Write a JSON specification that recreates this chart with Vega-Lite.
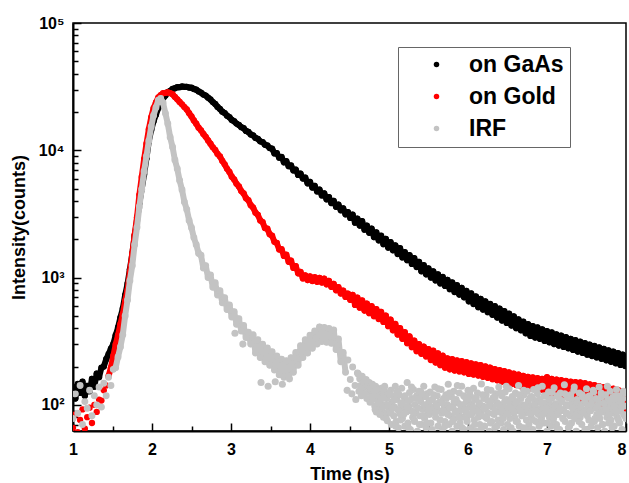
{
"$schema":"https://vega.github.io/schema/vega-lite/v6.json",
"width":553,"height":408,
"autosize":{"type":"none"},
"padding":{"left":73,"top":23,"right":3,"bottom":52},
"background":"white",
"config":{"view":{"stroke":"black","strokeWidth":1.5},"font":"Liberation Sans"},
"resolve":{"axis":{"x":"independent","y":"independent"}},
"datasets":{
"gaas":[{"t":1,"v":138},{"t":1.03,"v":112},{"t":1.06,"v":146},{"t":1.09,"v":124},{"t":1.12,"v":152},{"t":1.15,"v":118},{"t":1.18,"v":141},{"t":1.21,"v":128},{"t":1.24,"v":160},{"t":1.27,"v":139},{"t":1.3,"v":176},{"t":1.33,"v":165},{"t":1.36,"v":196},{"t":1.39,"v":200},{"t":1.42,"v":228},{"t":1.45,"v":250},{"t":1.48,"v":276},{"t":1.51,"v":300},{"t":1.54,"v":352},{"t":1.57,"v":405},
{"t":1.6,"v":485},{"t":1.63,"v":572},{"t":1.66,"v":728},{"t":1.69,"v":893},{"t":1.72,"v":1160},{"t":1.75,"v":1540},{"t":1.78,"v":2120},{"t":1.81,"v":2800},{"t":1.84,"v":3840},{"t":1.87,"v":4960},{"t":1.9,"v":6450},{"t":1.93,"v":8650},{"t":1.96,"v":11800},{"t":1.99,"v":14400},{"t":2.02,"v":16900},{"t":2.05,"v":19000},{"t":2.08,"v":21500},{"t":2.11,"v":23300},{"t":2.14,"v":25500},{"t":2.17,"v":26900},{"t":2.2,"v":28600},{"t":2.23,"v":29300},{"t":2.26,"v":30300},{"t":2.29,"v":30700},{"t":2.32,"v":31300},{"t":2.35,"v":31300},{"t":2.38,"v":31700},{"t":2.41,"v":31500},{"t":2.44,"v":31500},{"t":2.47,"v":31100},{"t":2.5,"v":31000},{"t":2.53,"v":30300},{"t":2.56,"v":29900},{"t":2.59,"v":29000},{"t":2.62,"v":28400},{"t":2.65,"v":27400},{"t":2.68,"v":26900},{"t":2.71,"v":25900},{"t":2.74,"v":25100},{"t":2.77,"v":23900},{"t":2.8,"v":23100},{"t":2.83,"v":21900},{"t":2.86,"v":21100},{"t":2.89,"v":20100},{"t":2.92,"v":19600},{"t":2.95,"v":18700},{"t":2.98,"v":18200},{"t":3.01,"v":17300},{"t":3.04,"v":16900},{"t":3.07,"v":16200},{"t":3.1,"v":15800},{"t":3.13,"v":15200},{"t":3.16,"v":14900},{"t":3.19,"v":14200},{"t":3.22,"v":13950},{"t":3.25,"v":13300},{"t":3.28,"v":13100},{"t":3.31,"v":12500},{"t":3.34,"v":12300},{"t":3.37,"v":11750},{"t":3.4,"v":11600},{"t":3.43,"v":11050},{"t":3.46,"v":10900},{"t":3.49,"v":10400},
{"t":3.52,"v":10300},{"t":3.55,"v":9450},{"t":3.58,"v":9500},{"t":3.61,"v":8750},{"t":3.64,"v":8850},{"t":3.67,"v":8050},{"t":3.7,"v":8200},{"t":3.73,"v":7500},{"t":3.76,"v":7600},{"t":3.79,"v":6950},{"t":3.82,"v":7050},{"t":3.85,"v":6400},{"t":3.88,"v":6550},{"t":3.91,"v":6000},{"t":3.94,"v":6100},{"t":3.97,"v":5500},{"t":4,"v":5650},{"t":4.03,"v":5100},{"t":4.06,"v":5250},{"t":4.09,"v":4750},{"t":4.12,"v":4900},{"t":4.15,"v":4420},{"t":4.18,"v":4580},{"t":4.21,"v":4120},{"t":4.24,"v":4290},{"t":4.27,"v":3850},{"t":4.3,"v":4000},{"t":4.33,"v":3600},{"t":4.36,"v":3740},{"t":4.39,"v":3380},{"t":4.42,"v":3490},{"t":4.45,"v":3140},{"t":4.48,"v":3270},{"t":4.51,"v":2940},
{"t":4.54,"v":3120},{"t":4.57,"v":2700},{"t":4.6,"v":2900},{"t":4.63,"v":2560},{"t":4.66,"v":2770},{"t":4.69,"v":2380},{"t":4.72,"v":2560},{"t":4.75,"v":2250},{"t":4.78,"v":2420},{"t":4.81,"v":2080},{"t":4.84,"v":2260},{"t":4.87,"v":1960},{"t":4.9,"v":2130},{"t":4.93,"v":1830},{"t":4.96,"v":2010},{"t":4.99,"v":1720},{"t":5.02,"v":1900},{"t":5.05,"v":1640},{"t":5.08,"v":1790},{"t":5.11,"v":1530},{"t":5.14,"v":1700},{"t":5.17,"v":1440},{"t":5.2,"v":1580},{"t":5.23,"v":1370},{"t":5.26,"v":1500},{"t":5.29,"v":1280},{"t":5.32,"v":1420},{"t":5.35,"v":1210},{"t":5.38,"v":1330},{"t":5.41,"v":1120},{"t":5.44,"v":1250},{"t":5.47,"v":1060},{"t":5.5,"v":1180},{"t":5.53,"v":1000},{"t":5.56,"v":1120},{"t":5.59,"v":950},{"t":5.62,"v":1060},{"t":5.65,"v":900},{"t":5.68,"v":1010},{"t":5.71,"v":860},{"t":5.74,"v":960},{"t":5.77,"v":810},{"t":5.8,"v":915},{"t":5.83,"v":770},{"t":5.86,"v":870},{"t":5.89,"v":735},{"t":5.92,"v":830},{"t":5.95,"v":700},{"t":5.98,"v":785},
{"t":6.01,"v":650},{"t":6.04,"v":750},{"t":6.07,"v":620},{"t":6.1,"v":710},{"t":6.13,"v":585},{"t":6.16,"v":680},{"t":6.19,"v":560},{"t":6.22,"v":650},{"t":6.25,"v":535},{"t":6.28,"v":620},{"t":6.31,"v":510},{"t":6.34,"v":595},{"t":6.37,"v":485},{"t":6.4,"v":570},{"t":6.43,"v":460},{"t":6.46,"v":545},{"t":6.49,"v":440},{"t":6.52,"v":520},{"t":6.55,"v":420},{"t":6.58,"v":495},{"t":6.61,"v":400},{"t":6.64,"v":470},{"t":6.67,"v":385},{"t":6.7,"v":450},{"t":6.73,"v":365},{"t":6.76,"v":430},{"t":6.79,"v":348},{"t":6.82,"v":415},{"t":6.85,"v":338},{"t":6.88,"v":405},{"t":6.91,"v":330},{"t":6.94,"v":392},{"t":6.97,"v":318},{"t":7,"v":380},{"t":7.03,"v":310},{"t":7.06,"v":370},{"t":7.09,"v":300},{"t":7.12,"v":358},{"t":7.15,"v":292},{"t":7.18,"v":350},{"t":7.21,"v":285},{"t":7.24,"v":340},{"t":7.27,"v":278},{"t":7.3,"v":330},{"t":7.33,"v":270},{"t":7.36,"v":322},{"t":7.39,"v":262},{"t":7.42,"v":313},{"t":7.45,"v":256},{"t":7.48,"v":305},{"t":7.51,"v":248},{"t":7.54,"v":297},{"t":7.57,"v":242},{"t":7.6,"v":290},{"t":7.63,"v":236},{"t":7.66,"v":282},{"t":7.69,"v":230},{"t":7.72,"v":275},{"t":7.75,"v":224},{"t":7.78,"v":268},{"t":7.81,"v":218},{"t":7.84,"v":262},{"t":7.87,"v":212},{"t":7.9,"v":255},{"t":7.93,"v":206},{"t":7.96,"v":248},{"t":7.99,"v":202}],
"gold":[{"t":1,"v":66},{"t":1.03,"v":84},{"t":1.06,"v":61},{"t":1.09,"v":76},{"t":1.12,"v":92},{"t":1.15,"v":65},{"t":1.18,"v":80},{"t":1.21,"v":95},{"t":1.24,"v":72},{"t":1.27,"v":100},{"t":1.3,"v":88},{"t":1.33,"v":110},{"t":1.36,"v":108},{"t":1.39,"v":130},{"t":1.42,"v":142},
{"t":1.45,"v":168},{"t":1.48,"v":196},{"t":1.51,"v":242},{"t":1.54,"v":298},{"t":1.57,"v":352},{"t":1.6,"v":430},{"t":1.63,"v":515},{"t":1.66,"v":655},{"t":1.69,"v":795},{"t":1.72,"v":1110},{"t":1.75,"v":1540},{"t":1.78,"v":2160},{"t":1.81,"v":2980},{"t":1.84,"v":4470},{"t":1.87,"v":6180},{"t":1.9,"v":8530},{"t":1.93,"v":11250},{"t":1.96,"v":14650},{"t":1.99,"v":18150},{"t":2.02,"v":21450},{"t":2.05,"v":23750},{"t":2.08,"v":26050},{"t":2.11,"v":27150},{"t":2.14,"v":28050},{"t":2.17,"v":28250},{"t":2.2,"v":28550},{"t":2.23,"v":28150},{"t":2.26,"v":27550},{"t":2.29,"v":26250},{"t":2.32,"v":25150},{"t":2.35,"v":23950},{"t":2.38,"v":22950},{"t":2.41,"v":21850},{"t":2.44,"v":20950},{"t":2.47,"v":19550},{"t":2.5,"v":18450},{"t":2.53,"v":17150},{"t":2.56,"v":16150},{"t":2.59,"v":15050},{"t":2.62,"v":14350},{"t":2.65,"v":13450},{"t":2.68,"v":12750},{"t":2.71,"v":11950},{"t":2.74,"v":11250},{"t":2.77,"v":10550},{"t":2.8,"v":10050},{"t":2.83,"v":9350},{"t":2.86,"v":8950},{"t":2.89,"v":8250},{"t":2.92,"v":7750},{"t":2.95,"v":7150},{"t":2.98,"v":6750},{"t":3.01,"v":6200},{"t":3.04,"v":5900},{"t":3.07,"v":5450},{"t":3.1,"v":5200},{"t":3.13,"v":4780},{"t":3.16,"v":4580},{"t":3.19,"v":4200},{"t":3.22,"v":4050},{"t":3.25,"v":3700},{"t":3.28,"v":3550},{"t":3.31,"v":3230},{"t":3.34,"v":3110},{"t":3.37,"v":2810},{"t":3.4,"v":2730},{"t":3.43,"v":2450},{"t":3.46,"v":2420},{"t":3.49,"v":2190},{"t":3.52,"v":2130},{"t":3.55,"v":1910},{"t":3.58,"v":1870},
{"t":3.61,"v":1660},{"t":3.64,"v":1670},{"t":3.67,"v":1480},{"t":3.7,"v":1510},{"t":3.73,"v":1330},{"t":3.76,"v":1360},{"t":3.79,"v":1190},{"t":3.82,"v":1230},{"t":3.85,"v":1080},{"t":3.88,"v":1110},{"t":3.91,"v":985},{"t":3.94,"v":1040},{"t":3.97,"v":955},{"t":4,"v":1020},{"t":4.03,"v":940},{"t":4.06,"v":1005},{"t":4.09,"v":925},{"t":4.12,"v":995},{"t":4.15,"v":915},{"t":4.18,"v":980},{"t":4.21,"v":885},{"t":4.24,"v":940},{"t":4.27,"v":845},{"t":4.3,"v":890},{"t":4.33,"v":795},{"t":4.36,"v":840},{"t":4.39,"v":750},{"t":4.42,"v":790},{"t":4.45,"v":705},{"t":4.48,"v":748},{"t":4.51,"v":668},
{"t":4.54,"v":730},{"t":4.57,"v":610},{"t":4.6,"v":695},{"t":4.63,"v":580},{"t":4.66,"v":660},{"t":4.69,"v":550},{"t":4.72,"v":625},{"t":4.75,"v":525},{"t":4.78,"v":595},{"t":4.81,"v":497},{"t":4.84,"v":565},{"t":4.87,"v":472},{"t":4.9,"v":537},{"t":4.93,"v":448},{"t":4.96,"v":503},{"t":4.99,"v":415},{"t":5.02,"v":467},{"t":5.05,"v":385},{"t":5.08,"v":432},{"t":5.11,"v":357},{"t":5.14,"v":400},{"t":5.17,"v":330},{"t":5.2,"v":372},{"t":5.23,"v":305},{"t":5.26,"v":345},{"t":5.29,"v":284},{"t":5.32,"v":320},{"t":5.35,"v":264},{"t":5.38,"v":300},{"t":5.41,"v":252},{"t":5.44,"v":287},{"t":5.47,"v":240},{"t":5.5,"v":274},
{"t":5.53,"v":225},{"t":5.56,"v":266},{"t":5.59,"v":215},{"t":5.62,"v":254},{"t":5.65,"v":205},{"t":5.68,"v":243},{"t":5.71,"v":196},{"t":5.74,"v":232},{"t":5.77,"v":190},{"t":5.8,"v":228},{"t":5.83,"v":186},{"t":5.86,"v":223},{"t":5.89,"v":183},{"t":5.92,"v":220},{"t":5.95,"v":180},{"t":5.98,"v":216},{"t":6.01,"v":175},{"t":6.04,"v":212},{"t":6.07,"v":173},{"t":6.1,"v":208},{"t":6.13,"v":170},{"t":6.16,"v":205},{"t":6.19,"v":166},{"t":6.22,"v":200},{"t":6.25,"v":163},{"t":6.28,"v":196},{"t":6.31,"v":159},{"t":6.34,"v":191},{"t":6.37,"v":156},{"t":6.4,"v":187},{"t":6.43,"v":152},{"t":6.46,"v":184},{"t":6.49,"v":149},{"t":6.52,"v":180},{"t":6.55,"v":146},{"t":6.58,"v":176},{"t":6.61,"v":143},{"t":6.64,"v":173},{"t":6.67,"v":140},{"t":6.7,"v":169},{"t":6.73,"v":137},{"t":6.76,"v":166},{"t":6.79,"v":135},{"t":6.82,"v":164},{"t":6.85,"v":133},{"t":6.88,"v":162},{"t":6.91,"v":131},{"t":6.94,"v":160},{"t":6.97,"v":130},
{"t":7,"v":165},{"t":7.03,"v":122},{"t":7.06,"v":160},{"t":7.09,"v":119},{"t":7.12,"v":158},{"t":7.15,"v":117},{"t":7.18,"v":156},{"t":7.21,"v":116},{"t":7.24,"v":154},{"t":7.27,"v":114},{"t":7.3,"v":152},{"t":7.33,"v":113},{"t":7.36,"v":151},{"t":7.39,"v":112},{"t":7.42,"v":150},{"t":7.45,"v":110},{"t":7.48,"v":148},{"t":7.51,"v":108},{"t":7.54,"v":145},{"t":7.57,"v":106},{"t":7.6,"v":143},{"t":7.63,"v":104},{"t":7.66,"v":140},{"t":7.69,"v":102},{"t":7.72,"v":138},{"t":7.75,"v":100},{"t":7.78,"v":136},{"t":7.81,"v":98},{"t":7.84,"v":134},{"t":7.87,"v":96},{"t":7.9,"v":131},{"t":7.93,"v":94},{"t":7.96,"v":128},{"t":7.99,"v":92}],
"irf":[{"t":1,"v":78},{"t":1.03,"v":122},{"t":1.06,"v":86},{"t":1.09,"v":142},{"t":1.12,"v":70},{"t":1.15,"v":106},{"t":1.18,"v":94},{"t":1.21,"v":130},{"t":1.24,"v":82},{"t":1.27,"v":118},{"t":1.3,"v":100},{"t":1.33,"v":138},{"t":1.36,"v":96},{"t":1.39,"v":148},{"t":1.42,"v":118},{"t":1.45,"v":165},{"t":1.48,"v":142},{"t":1.51,"v":190},{"t":1.54,"v":196},{"t":1.57,"v":238},
{"t":1.6,"v":285},{"t":1.63,"v":355},{"t":1.66,"v":500},{"t":1.69,"v":665},{"t":1.72,"v":945},{"t":1.75,"v":1240},{"t":1.78,"v":1810},{"t":1.81,"v":2480},{"t":1.84,"v":3600},{"t":1.87,"v":4950},{"t":1.9,"v":6850},{"t":1.93,"v":9000},{"t":1.96,"v":11900},{"t":1.99,"v":15300},{"t":2.02,"v":18800},{"t":2.05,"v":21700},{"t":2.08,"v":24700},{"t":2.11,"v":25500},{"t":2.14,"v":23600},{"t":2.17,"v":19500},{"t":2.2,"v":16150},{"t":2.23,"v":12650},{"t":2.26,"v":10600},{"t":2.29,"v":8400},{"t":2.32,"v":7150},{"t":2.35,"v":5780},{"t":2.38,"v":4900},{"t":2.41,"v":3930},{"t":2.44,"v":3430},{"t":2.47,"v":2810},{"t":2.5,"v":2460},{"t":2.53,"v":2060},{"t":2.56,"v":1810},{"t":2.59,"v":1550},
{"t":2.62,"v":1500},{"t":2.65,"v":1190},{"t":2.68,"v":1240},{"t":2.71,"v":1000},{"t":2.74,"v":1050},{"t":2.77,"v":840},{"t":2.8,"v":910},{"t":2.83,"v":730},{"t":2.86,"v":790},{"t":2.89,"v":635},{"t":2.92,"v":695},{"t":2.95,"v":560},{"t":2.98,"v":610},{"t":3.01,"v":490},{"t":3.04,"v":540},{"t":3.07,"v":430},{"t":3.1,"v":475},{"t":3.13,"v":380},{"t":3.16,"v":420},{"t":3.19,"v":338},{"t":3.22,"v":372},{"t":3.25,"v":300},
{"t":3.28,"v":355},{"t":3.31,"v":255},{"t":3.34,"v":325},{"t":3.37,"v":235},{"t":3.4,"v":300},{"t":3.43,"v":218},{"t":3.46,"v":280},{"t":3.49,"v":205},{"t":3.52,"v":262},{"t":3.55,"v":188},{"t":3.58,"v":242},{"t":3.61,"v":172},{"t":3.64,"v":228},{"t":3.67,"v":165},{"t":3.7,"v":222},{"t":3.73,"v":168},{"t":3.76,"v":235},{"t":3.79,"v":180},{"t":3.82,"v":258},{"t":3.85,"v":205},{"t":3.88,"v":292},{"t":3.91,"v":235},{"t":3.94,"v":325},{"t":3.97,"v":255},{"t":4,"v":352},{"t":4.03,"v":278},{"t":4.06,"v":380},{"t":4.09,"v":300},{"t":4.12,"v":410},{"t":4.15,"v":315},{"t":4.18,"v":405},{"t":4.21,"v":310},{"t":4.24,"v":398},{"t":4.27,"v":305},{"t":4.3,"v":388},{"t":4.33,"v":272},{"t":4.36,"v":330},{"t":4.39,"v":218},{"t":4.42,"v":258},{"t":4.45,"v":180},{"t":4.48,"v":225},{"t":4.51,"v":158},{"t":4.54,"v":198},{"t":4.57,"v":142},{"t":4.6,"v":178}],
"irf2":[{"t":3.05,"v":365},{"t":3.15,"v":300},{"t":3.38,"v":150},{"t":3.47,"v":140},{"t":3.56,"v":152},{"t":3.65,"v":145},{"t":3.74,"v":160},{"t":4.47,"v":130},{"t":4.53,"v":122},{"t":4.58,"v":110},
{"t":4.61,"v":175},{"t":4.62,"v":128},{"t":4.63,"v":160},{"t":4.64,"v":142},{"t":4.65,"v":118},{"t":4.66,"v":168},{"t":4.67,"v":135},{"t":4.68,"v":152},{"t":4.69,"v":122},{"t":4.7,"v":145},
{"t":4.71,"v":158},{"t":4.72,"v":112},{"t":4.73,"v":140},{"t":4.74,"v":126},{"t":4.75,"v":150},{"t":4.76,"v":105},{"t":4.77,"v":132},{"t":4.78,"v":118},{"t":4.79,"v":145},{"t":4.8,"v":110},
{"t":4.81,"v":125},{"t":4.82,"v":98},{"t":4.83,"v":140},{"t":4.84,"v":88},{"t":4.85,"v":115},{"t":4.86,"v":130},{"t":4.87,"v":95},{"t":4.88,"v":120},{"t":4.89,"v":105},{"t":4.9,"v":135},
{"t":4.91,"v":92},{"t":4.92,"v":118},{"t":4.93,"v":80},{"t":4.94,"v":128},{"t":4.95,"v":100},{"t":4.96,"v":86},{"t":4.97,"v":112},{"t":4.98,"v":75},{"t":4.99,"v":122},{"t":5,"v":95},
{"t":5.01,"v":88},{"t":5.02,"v":130},{"t":5.03,"v":70},{"t":5.04,"v":105},{"t":5.05,"v":118},{"t":5.06,"v":82},{"t":5.07,"v":96},{"t":5.08,"v":140},{"t":5.09,"v":74},{"t":5.1,"v":110},
{"t":5.11,"v":92},{"t":5.12,"v":66},{"t":5.13,"v":120},{"t":5.14,"v":85},{"t":5.15,"v":102},{"t":5.16,"v":135},{"t":5.17,"v":78},{"t":5.18,"v":95},{"t":5.19,"v":115},{"t":5.2,"v":68},
{"t":5.21,"v":108},{"t":5.22,"v":88},{"t":5.23,"v":150},{"t":5.24,"v":72},{"t":5.25,"v":98},{"t":5.26,"v":125},{"t":5.27,"v":64},{"t":5.28,"v":90},{"t":5.29,"v":112},{"t":5.3,"v":80},
{"t":5.31,"v":132},{"t":5.32,"v":76},{"t":5.33,"v":100},{"t":5.34,"v":86},{"t":5.35,"v":118},{"t":5.36,"v":62},{"t":5.37,"v":94},{"t":5.38,"v":128},{"t":5.39,"v":82},{"t":5.4,"v":106},
{"t":5.41,"v":70},{"t":5.42,"v":115},{"t":5.43,"v":92},{"t":5.44,"v":140},{"t":5.45,"v":78},{"t":5.46,"v":98},{"t":5.47,"v":66},{"t":5.48,"v":122},{"t":5.49,"v":88},{"t":5.5,"v":104},
{"t":5.51,"v":84},{"t":5.52,"v":126},{"t":5.53,"v":72},{"t":5.54,"v":96},{"t":5.55,"v":110},{"t":5.56,"v":60},{"t":5.57,"v":92},{"t":5.58,"v":138},{"t":5.59,"v":80},{"t":5.6,"v":102},
{"t":5.61,"v":118},{"t":5.62,"v":68},{"t":5.63,"v":90},{"t":5.64,"v":105},{"t":5.65,"v":76},{"t":5.66,"v":132},{"t":5.67,"v":86},{"t":5.68,"v":64},{"t":5.69,"v":112},{"t":5.7,"v":95},
{"t":5.71,"v":74},{"t":5.72,"v":120},{"t":5.73,"v":88},{"t":5.74,"v":100},{"t":5.75,"v":145},{"t":5.76,"v":70},{"t":5.77,"v":94},{"t":5.78,"v":82},{"t":5.79,"v":116},{"t":5.8,"v":62},
{"t":5.81,"v":98},{"t":5.82,"v":128},{"t":5.83,"v":78},{"t":5.84,"v":90},{"t":5.85,"v":110},{"t":5.86,"v":68},{"t":5.87,"v":104},{"t":5.88,"v":86},{"t":5.89,"v":124},{"t":5.9,"v":72},
{"t":5.91,"v":92},{"t":5.92,"v":140},{"t":5.93,"v":80},{"t":5.94,"v":100},{"t":5.95,"v":64},{"t":5.96,"v":116},{"t":5.97,"v":88},{"t":5.98,"v":106},{"t":5.99,"v":74},{"t":6,"v":130},
{"t":6.01,"v":84},{"t":6.02,"v":96},{"t":6.03,"v":118},{"t":6.04,"v":66},{"t":6.05,"v":102},{"t":6.06,"v":90},{"t":6.07,"v":135},{"t":6.08,"v":76},{"t":6.09,"v":110},{"t":6.1,"v":62},
{"t":6.11,"v":94},{"t":6.12,"v":124},{"t":6.13,"v":80},{"t":6.14,"v":104},{"t":6.15,"v":70},{"t":6.16,"v":88},{"t":6.17,"v":146},{"t":6.18,"v":82},{"t":6.19,"v":98},{"t":6.2,"v":112},
{"t":6.21,"v":68},{"t":6.22,"v":92},{"t":6.23,"v":120},{"t":6.24,"v":78},{"t":6.25,"v":108},{"t":6.26,"v":86},{"t":6.27,"v":62},{"t":6.28,"v":100},{"t":6.29,"v":130},{"t":6.3,"v":74},
{"t":6.31,"v":96},{"t":6.32,"v":114},{"t":6.33,"v":84},{"t":6.34,"v":66},{"t":6.35,"v":122},{"t":6.36,"v":90},{"t":6.37,"v":104},{"t":6.38,"v":76},{"t":6.39,"v":138},{"t":6.4,"v":88},
{"t":6.41,"v":100},{"t":6.42,"v":72},{"t":6.43,"v":118},{"t":6.44,"v":82},{"t":6.45,"v":64},{"t":6.46,"v":96},{"t":6.47,"v":126},{"t":6.48,"v":86},{"t":6.49,"v":110},{"t":6.5,"v":70},
{"t":6.51,"v":92},{"t":6.52,"v":134},{"t":6.53,"v":78},{"t":6.54,"v":102},{"t":6.55,"v":88},{"t":6.56,"v":116},{"t":6.57,"v":62},{"t":6.58,"v":98},{"t":6.59,"v":80},{"t":6.6,"v":124},
{"t":6.61,"v":74},{"t":6.62,"v":106},{"t":6.63,"v":90},{"t":6.64,"v":142},{"t":6.65,"v":68},{"t":6.66,"v":96},{"t":6.67,"v":112},{"t":6.68,"v":82},{"t":6.69,"v":100},{"t":6.7,"v":66},
{"t":6.71,"v":120},{"t":6.72,"v":86},{"t":6.73,"v":94},{"t":6.74,"v":76},{"t":6.75,"v":128},{"t":6.76,"v":104},{"t":6.77,"v":70},{"t":6.78,"v":90},{"t":6.79,"v":114},{"t":6.8,"v":80},
{"t":6.81,"v":98},{"t":6.82,"v":64},{"t":6.83,"v":132},{"t":6.84,"v":88},{"t":6.85,"v":108},{"t":6.86,"v":74},{"t":6.87,"v":94},{"t":6.88,"v":122},{"t":6.89,"v":84},{"t":6.9,"v":68},
{"t":6.91,"v":110},{"t":6.92,"v":92},{"t":6.93,"v":78},{"t":6.94,"v":140},{"t":6.95,"v":96},{"t":6.96,"v":72},{"t":6.97,"v":104},{"t":6.98,"v":86},{"t":6.99,"v":118},{"t":7,"v":62},
{"t":7.01,"v":90},{"t":7.02,"v":126},{"t":7.03,"v":80},{"t":7.04,"v":100},{"t":7.05,"v":68},{"t":7.06,"v":112},{"t":7.07,"v":94},{"t":7.08,"v":76},{"t":7.09,"v":136},{"t":7.1,"v":88},
{"t":7.11,"v":102},{"t":7.12,"v":70},{"t":7.13,"v":118},{"t":7.14,"v":84},{"t":7.15,"v":96},{"t":7.16,"v":64},{"t":7.17,"v":124},{"t":7.18,"v":90},{"t":7.19,"v":108},{"t":7.2,"v":78},
{"t":7.21,"v":92},{"t":7.22,"v":144},{"t":7.23,"v":74},{"t":7.24,"v":100},{"t":7.25,"v":86},{"t":7.26,"v":114},{"t":7.27,"v":66},{"t":7.28,"v":98},{"t":7.29,"v":82},{"t":7.3,"v":120},
{"t":7.31,"v":72},{"t":7.32,"v":106},{"t":7.33,"v":90},{"t":7.34,"v":130},{"t":7.35,"v":78},{"t":7.36,"v":96},{"t":7.37,"v":62},{"t":7.38,"v":110},{"t":7.39,"v":88},{"t":7.4,"v":100},
{"t":7.41,"v":124},{"t":7.42,"v":80},{"t":7.43,"v":94},{"t":7.44,"v":70},{"t":7.45,"v":116},{"t":7.46,"v":86},{"t":7.47,"v":104},{"t":7.48,"v":64},{"t":7.49,"v":92},{"t":7.5,"v":134},
{"t":7.51,"v":82},{"t":7.52,"v":100},{"t":7.53,"v":76},{"t":7.54,"v":118},{"t":7.55,"v":90},{"t":7.56,"v":68},{"t":7.57,"v":108},{"t":7.58,"v":94},{"t":7.59,"v":126},{"t":7.6,"v":74},
{"t":7.61,"v":96},{"t":7.62,"v":112},{"t":7.63,"v":84},{"t":7.64,"v":66},{"t":7.65,"v":102},{"t":7.66,"v":138},{"t":7.67,"v":78},{"t":7.68,"v":92},{"t":7.69,"v":116},{"t":7.7,"v":70},
{"t":7.71,"v":88},{"t":7.72,"v":104},{"t":7.73,"v":62},{"t":7.74,"v":120},{"t":7.75,"v":94},{"t":7.76,"v":80},{"t":7.77,"v":110},{"t":7.78,"v":72},{"t":7.79,"v":98},{"t":7.8,"v":128},
{"t":7.81,"v":76},{"t":7.82,"v":92},{"t":7.83,"v":114},{"t":7.84,"v":86},{"t":7.85,"v":68},{"t":7.86,"v":106},{"t":7.87,"v":96},{"t":7.88,"v":132},{"t":7.89,"v":80},{"t":7.9,"v":100},
{"t":7.91,"v":118},{"t":7.92,"v":72},{"t":7.93,"v":90},{"t":7.94,"v":104},{"t":7.95,"v":64},{"t":7.96,"v":112},{"t":7.97,"v":84},{"t":7.98,"v":98},{"t":7.99,"v":124},{"t":8,"v":78},
{"t":4.805,"v":118},{"t":4.825,"v":92},{"t":4.845,"v":132},{"t":4.865,"v":104},{"t":4.885,"v":84},{"t":4.905,"v":112},{"t":4.925,"v":96},{"t":4.945,"v":140},{"t":4.965,"v":78},{"t":4.985,"v":100},
{"t":5.005,"v":122},{"t":5.025,"v":86},{"t":5.045,"v":94},{"t":5.065,"v":110},{"t":5.085,"v":68},{"t":5.105,"v":128},{"t":5.125,"v":90},{"t":5.145,"v":76},{"t":5.165,"v":104},{"t":5.185,"v":84},
{"t":5.205,"v":118},{"t":5.225,"v":96},{"t":5.245,"v":66},{"t":5.265,"v":108},{"t":5.285,"v":138},{"t":5.305,"v":88},{"t":5.325,"v":74},{"t":5.345,"v":112},{"t":5.365,"v":94},{"t":5.385,"v":70},
{"t":5.405,"v":126},{"t":5.425,"v":82},{"t":5.445,"v":100},{"t":5.465,"v":116},{"t":5.485,"v":72},{"t":5.505,"v":92},{"t":5.525,"v":108},{"t":5.545,"v":64},{"t":5.565,"v":120},{"t":5.585,"v":86},
{"t":5.605,"v":98},{"t":5.625,"v":134},{"t":5.645,"v":76},{"t":5.665,"v":104},{"t":5.685,"v":90},{"t":5.705,"v":68},{"t":5.725,"v":112},{"t":5.745,"v":84},{"t":5.765,"v":124},{"t":5.785,"v":96},
{"t":5.805,"v":74},{"t":5.825,"v":106},{"t":5.845,"v":88},{"t":5.865,"v":142},{"t":5.885,"v":80},{"t":5.905,"v":100},{"t":5.925,"v":66},{"t":5.945,"v":118},{"t":5.965,"v":92},{"t":5.985,"v":78},
{"t":6.005,"v":110},{"t":6.025,"v":128},{"t":6.045,"v":84},{"t":6.065,"v":96},{"t":6.085,"v":70},{"t":6.105,"v":114},{"t":6.125,"v":88},{"t":6.145,"v":102},{"t":6.165,"v":64},{"t":6.185,"v":120},
{"t":6.205,"v":94},{"t":6.225,"v":80},{"t":6.245,"v":132},{"t":6.265,"v":98},{"t":6.285,"v":72},{"t":6.305,"v":108},{"t":6.325,"v":86},{"t":6.345,"v":116},{"t":6.365,"v":68},{"t":6.385,"v":100},
{"t":6.405,"v":124},{"t":6.425,"v":90},{"t":6.445,"v":78},{"t":6.465,"v":106},{"t":6.485,"v":140},{"t":6.505,"v":84},{"t":6.525,"v":96},{"t":6.545,"v":66},{"t":6.565,"v":112},{"t":6.585,"v":88},
{"t":6.605,"v":104},{"t":6.625,"v":74},{"t":6.645,"v":120},{"t":6.665,"v":92},{"t":6.685,"v":82},{"t":6.705,"v":130},{"t":6.725,"v":98},{"t":6.745,"v":64},{"t":6.765,"v":108},{"t":6.785,"v":86},
{"t":6.805,"v":116},{"t":6.825,"v":76},{"t":6.845,"v":100},{"t":6.865,"v":90},{"t":6.885,"v":136},{"t":6.905,"v":70},{"t":6.925,"v":104},{"t":6.945,"v":84},{"t":6.965,"v":118},{"t":6.985,"v":94},
{"t":7.005,"v":72},{"t":7.025,"v":110},{"t":7.045,"v":88},{"t":7.065,"v":126},{"t":7.085,"v":80},{"t":7.105,"v":98},{"t":7.125,"v":66},{"t":7.145,"v":114},{"t":7.165,"v":92},{"t":7.185,"v":106},
{"t":7.205,"v":78},{"t":7.225,"v":122},{"t":7.245,"v":86},{"t":7.265,"v":100},{"t":7.285,"v":68},{"t":7.305,"v":112},{"t":7.325,"v":94},{"t":7.345,"v":138},{"t":7.365,"v":82},{"t":7.385,"v":104},
{"t":7.405,"v":74},{"t":7.425,"v":96},{"t":7.445,"v":120},{"t":7.465,"v":88},{"t":7.485,"v":108},{"t":7.505,"v":64},{"t":7.525,"v":116},{"t":7.545,"v":90},{"t":7.565,"v":100},{"t":7.585,"v":130},
{"t":7.605,"v":78},{"t":7.625,"v":94},{"t":7.645,"v":110},{"t":7.665,"v":86},{"t":7.685,"v":124},{"t":7.705,"v":70},{"t":7.725,"v":102},{"t":7.745,"v":92},{"t":7.765,"v":140},{"t":7.785,"v":84},
{"t":7.805,"v":106},{"t":7.825,"v":66},{"t":7.845,"v":98},{"t":7.865,"v":118},{"t":7.885,"v":88},{"t":7.905,"v":76},{"t":7.925,"v":112},{"t":7.945,"v":96},{"t":7.965,"v":128},{"t":7.985,"v":82}]
},
"layer":[
{"data":{"name":"gaas"},
 "mark":{"type":"line","color":"#000000","strokeWidth":6,"strokeCap":"round","strokeJoin":"round","clip":true},
 "encoding":{
  "x":{"field":"t","type":"quantitative","scale":{"domain":[1,8],"nice":false,"zero":false},
   "axis":{"orient":"bottom","values":[1.5,2.5,3.5,4.5,5.5,6.5,7.5],"labels":false,"domain":false,"title":null,"grid":false,"tickSize":-5,"tickColor":"black","tickWidth":1.5}},
  "y":{"field":"v","type":"quantitative","scale":{"type":"log","domain":[62.3,100000],"nice":false},
   "axis":{"orient":"left","values":[70,80,90,200,300,400,500,600,700,800,900,2000,3000,4000,5000,6000,7000,8000,9000,20000,30000,40000,50000,60000,70000,80000,90000],"labels":false,"domain":false,"title":null,"grid":false,"tickSize":-5,"tickColor":"black","tickWidth":1.5}}}},
{"data":{"name":"gaas"},
 "mark":{"type":"point","filled":true,"size":40,"opacity":1,"clip":true},
 "encoding":{
  "x":{"field":"t","type":"quantitative","scale":{"domain":[1,8],"nice":false,"zero":false},
   "axis":{"orient":"bottom","values":[1,2,3,4,5,6,7,8],"format":"d","title":"Time (ns)","grid":false,"tickSize":-8,"tickColor":"black","tickWidth":1.5,"domainColor":"black","domainWidth":2,"labelFont":"Liberation Sans","labelFontSize":16,"labelFontWeight":"bold","labelColor":"black","labelPadding":18,"labelFlush":false,"labelOverlap":false,"labelAlign":{"condition":{"test":"datum.value === 8","value":"right"},"value":"center"},"titleFont":"Liberation Sans","titleFontSize":18,"titleFontWeight":"bold","titleColor":"black","titlePadding":8}},
  "y":{"field":"v","type":"quantitative","scale":{"type":"log","domain":[62.3,100000],"nice":false},
   "axis":{"orient":"left","values":[100,1000,10000,100000],"labelExpr":"datum.value == 100 ? '10²' : datum.value == 1000 ? '10³' : datum.value == 10000 ? '10⁴' : '10⁵'","title":"Intensity(counts)","grid":false,"tickSize":-8,"tickColor":"black","tickWidth":1.5,"domainColor":"black","domainWidth":2,"labelFont":"Liberation Sans","labelFontSize":16,"labelFontWeight":"bold","labelColor":"black","labelPadding":17,"labelFlush":false,"labelOverlap":false,"titleFont":"Liberation Sans","titleFontSize":18,"titleFontWeight":"bold","titleColor":"black","titlePadding":10}},
  "color":{"datum":"on GaAs","type":"nominal","scale":{"domain":["on GaAs","on Gold","IRF"],"range":["#000000","#ff0000","#c3c3c3"]},
   "legend":{"title":null,"orient":"none","legendX":325,"legendY":24,"padding":6,"strokeColor":"#666666","fillColor":"white","symbolType":"circle","symbolSize":30,"symbolOffset":21,"labelOffset":21,"labelFont":"Liberation Sans","labelFontSize":23,"labelFontWeight":"bold","labelColor":"black","rowPadding":8,"labelLimit":300}}}},
{"data":{"name":"gold"},"transform":[{"filter":"datum.t >= 1.44"}],
 "mark":{"type":"line","color":"#ff0000","strokeWidth":6,"strokeCap":"round","strokeJoin":"round","clip":true},
 "encoding":{
  "x":{"field":"t","type":"quantitative","scale":{"domain":[1,8],"nice":false,"zero":false},"axis":null},
  "y":{"field":"v","type":"quantitative","scale":{"type":"log","domain":[62.3,100000],"nice":false},"axis":null}}},
{"data":{"name":"gold"},
 "mark":{"type":"point","filled":true,"size":40,"opacity":1,"clip":true},
 "encoding":{
  "x":{"field":"t","type":"quantitative","scale":{"domain":[1,8],"nice":false,"zero":false},"axis":null},
  "y":{"field":"v","type":"quantitative","scale":{"type":"log","domain":[62.3,100000],"nice":false},"axis":null},
  "color":{"datum":"on Gold","type":"nominal"}}},
{"data":{"name":"irf"},"transform":[{"filter":"datum.t >= 1.5 && datum.t <= 4.45"}],
 "mark":{"type":"line","color":"#c3c3c3","strokeWidth":6,"strokeCap":"round","strokeJoin":"round","clip":true},
 "encoding":{
  "x":{"field":"t","type":"quantitative","scale":{"domain":[1,8],"nice":false,"zero":false},"axis":null},
  "y":{"field":"v","type":"quantitative","scale":{"type":"log","domain":[62.3,100000],"nice":false},"axis":null}}},
{"data":{"name":"irf"},
 "mark":{"type":"point","filled":true,"size":48,"opacity":1,"clip":true},
 "encoding":{
  "x":{"field":"t","type":"quantitative","scale":{"domain":[1,8],"nice":false,"zero":false},"axis":null},
  "y":{"field":"v","type":"quantitative","scale":{"type":"log","domain":[62.3,100000],"nice":false},"axis":null},
  "color":{"datum":"IRF","type":"nominal"}}},
{"data":{"name":"irf2"},
 "mark":{"type":"point","filled":true,"size":50,"opacity":1,"clip":true},
 "encoding":{
  "x":{"field":"t","type":"quantitative","scale":{"domain":[1,8],"nice":false,"zero":false},"axis":null},
  "y":{"field":"v","type":"quantitative","scale":{"type":"log","domain":[62.3,100000],"nice":false},"axis":null},
  "color":{"datum":"IRF","type":"nominal"}}}
]
}
